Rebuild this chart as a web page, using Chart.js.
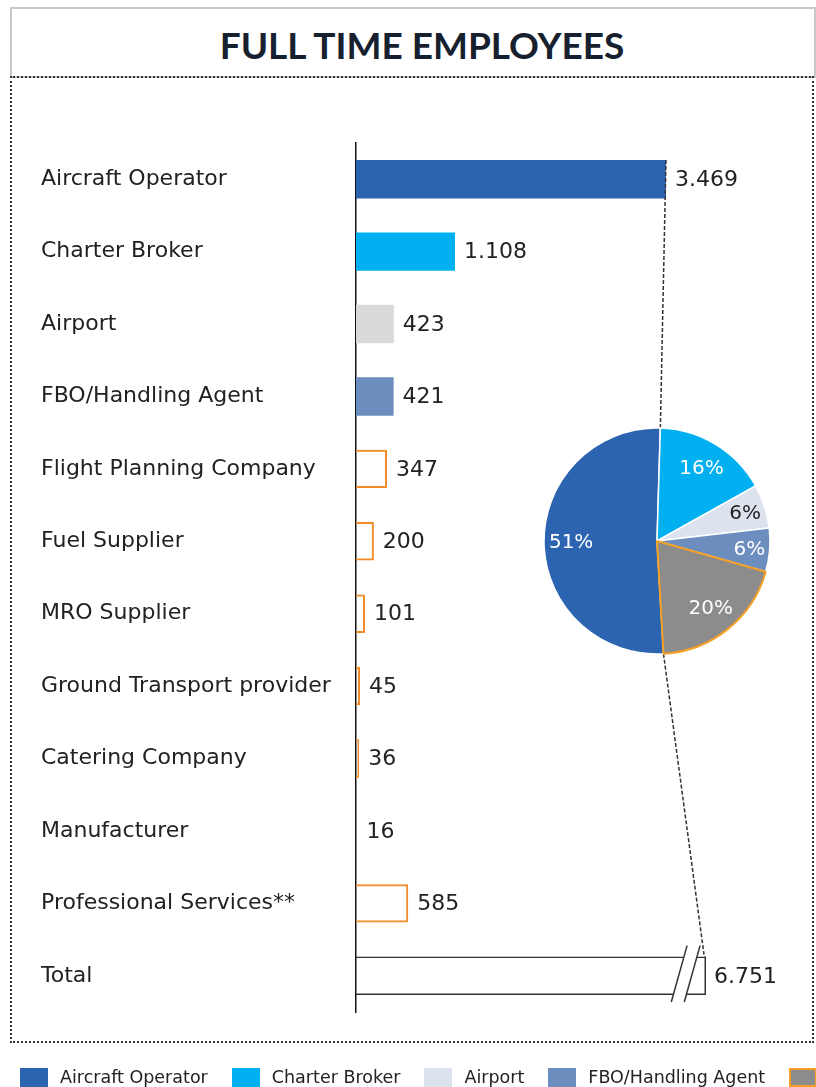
<!DOCTYPE html>
<html><head><meta charset="utf-8">
<script src="https://cdn.jsdelivr.net/npm/chart.js@4/dist/chart.umd.min.js"></script>
<style>
html,body{margin:0;padding:0;background:#fff;width:816px;height:1087px;overflow:hidden;position:relative;}
#titleBox{position:absolute;left:10px;top:7px;width:802px;height:67px;border:2px solid #C8C8C8;}
#title{position:absolute;left:0;top:23px;width:844px;text-align:center;font:700 37px Lato,"DejaVu Sans",sans-serif;color:#16202E;line-height:44px;}
#frame{position:absolute;left:10px;top:76px;width:800px;height:963px;border:2px dotted #333;}
canvas{position:absolute;left:0;top:0;}
#legend{position:absolute;left:20px;top:1067px;display:flex;white-space:nowrap;font:17.5px "DejaVu Sans",sans-serif;color:#222;}
.item{display:flex;align-items:center;margin-right:24px;line-height:20px;}
.sw{width:28px;height:19px;margin-right:12px;box-sizing:border-box;}
</style></head>
<body>
<div id="titleBox"></div>
<div id="frame"></div>
<div id="title">FULL TIME EMPLOYEES</div>
<canvas id="bar" width="816" height="1087"></canvas>
<canvas id="pie" width="816" height="1087"></canvas>
<div id="legend"></div>
<script>
// ---- data ----
const categories = ['Aircraft Operator','Charter Broker','Airport','FBO/Handling Agent','Flight Planning Company','Fuel Supplier','MRO Supplier','Ground Transport provider','Catering Company','Manufacturer','Professional Services**','Total'];
const employees = [3469,1108,423,421,347,200,101,45,36,16,585,6751];
const pieLabels = ['Aircraft Operator','Charter Broker','Airport','FBO/Handling Agent','Other'];
const pieValues = [3469,1108,423,421,1330];

// ---- styles ----
const ORANGE = '#F28C28';
const NONE = 'rgba(255,255,255,0)';
const barFill = ['#2C64B1','#00B0F0','#D9D9D9','#6C8EBF',NONE,NONE,NONE,NONE,NONE,NONE,NONE,NONE];
const barBorder = ['#2C64B1','#00B0F0','#D9D9D9','#6C8EBF',ORANGE,ORANGE,ORANGE,ORANGE,ORANGE,NONE,ORANGE,'#333'];
const barBorderWidth = [0,0,0,0,2,2,2,2,2,0,2,1.5];
const pieFill = ['#2C64B1','#00B0F0','#DDE3EE','#6C8EBF','#8C8C8C'];
const pieBorder = ['#fff','#fff','#fff','#fff','#F4A024'];
const pieLabelColor = ['#fff','#fff','#222','#fff','#fff'];
const X_MAX = 3917;
const FONT = '"DejaVu Sans"';

function fmt(v){ return String(v).replace(/\B(?=(\d{3})+(?!\d))/g,'.'); }

const barDecor = {
  id:'barDecor',
  afterDatasetsDraw(chart){
    const ctx = chart.ctx, area = chart.chartArea, meta = chart.getDatasetMeta(0);
    const ti = categories.length - 1;
    const p = meta.data[ti].getProps(['y','height'], true);
    const top = p.y - p.height/2, bot = p.y + p.height/2, R = area.right;
    const slope = 0.28;
    const xs = (o, yy) => R - 22 + o - (yy - top) * slope;
    ctx.save();
    ctx.fillStyle = '#fff';
    ctx.beginPath();
    ctx.moveTo(xs(0, top-2), top-2); ctx.lineTo(xs(13, top-2), top-2);
    ctx.lineTo(xs(13, bot+2), bot+2); ctx.lineTo(xs(0, bot+2), bot+2);
    ctx.closePath(); ctx.fill();
    ctx.strokeStyle = '#333'; ctx.lineWidth = 1.5;
    [0,13].forEach(o => { ctx.beginPath(); ctx.moveTo(xs(o, top-11), top-11); ctx.lineTo(xs(o, bot+7), bot+7); ctx.stroke(); });
    ctx.beginPath(); ctx.moveTo(R-0.75, top); ctx.lineTo(R-0.75, bot); ctx.stroke();
    ctx.font = '22px ' + FONT; ctx.fillStyle = '#222'; ctx.textBaseline = 'middle'; ctx.textAlign = 'left';
    meta.data.forEach((b, i) => {
      const q = b.getProps(['x','y'], true);
      const x = Math.min(q.x, R);
      ctx.fillText(fmt(employees[i]), x + (i === ti ? 8 : 9), q.y + 1);
    });
    ctx.restore();
  }
};

const barChart = new Chart(document.getElementById('bar'), {
  type:'bar',
  data:{labels:categories, datasets:[{data:employees, backgroundColor:barFill, borderColor:barBorder, borderWidth:barBorderWidth, borderSkipped:'start', barPercentage:0.53, categoryPercentage:1, clip:0}]},
  options:{
    indexAxis:'y', responsive:false, animation:false,
    layout:{padding:{left:41, right:110, top:143, bottom:75}},
    scales:{
      x:{display:false, min:0, max:X_MAX},
      y:{afterFit(s){ s.width = 315; }, grid:{display:false, drawTicks:false},
         border:{display:true, color:'#111', width:1.5},
         ticks:{crossAlign:'far', color:'#222', font:{family:'DejaVu Sans', size:22}, padding:0}}
    },
    plugins:{legend:{display:false}, tooltip:{enabled:false}}
  },
  plugins:[barDecor]
});

const pieTotal = pieValues.reduce((a,b)=>a+b,0);
const pieDecor = {
  id:'pieDecor',
  beforeDatasetsDraw(chart){
    const ctx = chart.ctx;
    const a = chart.getDatasetMeta(0).data[0].getProps(['x','y','startAngle','endAngle','outerRadius'], true);
    const bm = barChart.getDatasetMeta(0);
    const b0 = bm.data[0].getProps(['x','y','height'], true);
    const bt = bm.data[categories.length-1].getProps(['y','height'], true);
    const R = barChart.chartArea.right;
    ctx.save();
    ctx.setLineDash([4,2]); ctx.strokeStyle = '#333'; ctx.lineWidth = 1.5;
    ctx.beginPath();
    ctx.moveTo(b0.x, b0.y - b0.height/2);
    ctx.lineTo(a.x + Math.cos(a.endAngle)*a.outerRadius, a.y + Math.sin(a.endAngle)*a.outerRadius);
    ctx.stroke();
    ctx.beginPath();
    ctx.moveTo(a.x + Math.cos(a.startAngle)*a.outerRadius, a.y + Math.sin(a.startAngle)*a.outerRadius);
    ctx.lineTo(R - 2, bt.y - bt.height/2 - 2);
    ctx.stroke();
    ctx.restore();
  },
  afterDatasetsDraw(chart){
    const ctx = chart.ctx;
    ctx.save();
    ctx.font = '20px ' + FONT; ctx.textAlign = 'center'; ctx.textBaseline = 'middle';
    chart.getDatasetMeta(0).data.forEach((el, i) => {
      const p = el.getProps(['x','y','startAngle','endAngle','outerRadius'], true);
      const share = pieValues[i] / pieTotal;
      const mid = (p.startAngle + p.endAngle) / 2;
      const f = share < 0.1 ? 0.82 : 0.76;
      ctx.fillStyle = pieLabelColor[i];
      ctx.fillText(Math.round(share*100) + '%', p.x + Math.cos(mid)*p.outerRadius*f, p.y + Math.sin(mid)*p.outerRadius*f + 1);
    });
    ctx.restore();
  }
};

new Chart(document.getElementById('pie'), {
  type:'pie',
  data:{labels:pieLabels, datasets:[{data:pieValues, backgroundColor:pieFill, borderColor:pieBorder, borderWidth:[1.5,1.5,1.5,1.5,2]}]},
  options:{
    responsive:false, animation:false,
    rotation: 1.7 - 360 * pieValues[0] / pieTotal,
    layout:{padding:{left:543, right:45, top:427, bottom:432}},
    plugins:{legend:{display:false}, tooltip:{enabled:false}}
  },
  plugins:[pieDecor]
});

// legend
const lg = document.getElementById('legend');
pieLabels.forEach((l, i) => {
  const it = document.createElement('div'); it.className = 'item';
  const sw = document.createElement('div'); sw.className = 'sw';
  sw.style.background = pieFill[i];
  if (i === 4) sw.style.border = '2px solid #F4A024';
  const tx = document.createElement('span'); tx.textContent = l;
  it.appendChild(sw); it.appendChild(tx); lg.appendChild(it);
});
</script>
</body></html>
